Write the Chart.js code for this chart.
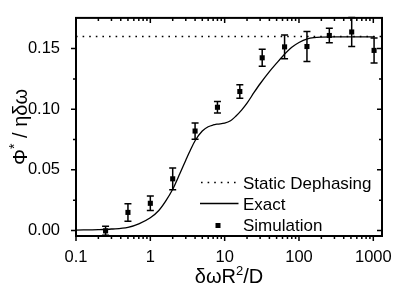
<!DOCTYPE html>
<html><head><meta charset="utf-8">
<script src="https://cdn.jsdelivr.net/npm/chart.js@4"></script>
<style>html,body{margin:0;padding:0;background:#fff}#wrap{width:400px;height:288px;position:relative}</style>
</head><body><div id="wrap"><canvas id="c"></canvas></div>
<script>
// ---- data ----
const simX   = [0.25, 0.5, 1, 2, 4, 8, 16, 32, 64, 128, 256, 512, 1024];
const simY   = [-0.0003, 0.0149, 0.0224, 0.0426, 0.0820, 0.1016, 0.1146, 0.1424, 0.1514, 0.1517, 0.1608, 0.1637, 0.1485];
const simErr = [0.0037, 0.0072, 0.0060, 0.0090, 0.0067, 0.0048, 0.0056, 0.0070, 0.0097, 0.0124, 0.0060, 0.0120, 0.0103];

const exactX = [0.1, 0.2, 0.3, 0.5, 0.7, 1, 1.3, 1.6, 2, 2.5, 3, 3.5, 4, 5, 6, 7, 8, 10, 12, 14, 17, 20, 25, 30, 40, 50, 60, 80, 100, 130, 160, 200, 300, 500, 1050];
const exactY = [0.0003, 0.0007, 0.0012, 0.0026, 0.0055, 0.0105, 0.0165, 0.024, 0.034, 0.047, 0.058, 0.067, 0.074, 0.082, 0.0855, 0.087, 0.0877, 0.0885, 0.0905, 0.094, 0.0995, 0.105, 0.114, 0.121, 0.131, 0.138, 0.1435, 0.151, 0.155, 0.158, 0.159, 0.1594, 0.1596, 0.1596, 0.1596];

const staticX = [0.1, 1309];
const staticY = [0.16, 0.16];

const xMajor = [0.1, 1, 10, 100, 1000];
const xLabels = ['0.1', '1', '10', '100', '1000'];
const xMinor = [0.2,0.3,0.4,0.5,0.6,0.7,0.8,0.9, 2,3,4,5,6,7,8,9, 20,30,40,50,60,70,80,90, 200,300,400,500,600,700,800,900];
const yMajor = [0, 0.05, 0.10, 0.15];
const yLabels = ['0.00', '0.05', '0.10', '0.15'];
const yMinor = [0.025, 0.075, 0.125];

const legendLabels = ['Static Dephasing', 'Exact', 'Simulation'];

const FONT = '"Liberation Sans", Arial, sans-serif';

const deco = {
  id: 'deco',
  beforeDatasetsDraw(chart) {
    const {ctx} = chart, xs = chart.scales.x, ys = chart.scales.y;
    ctx.save();
    ctx.strokeStyle = '#000'; ctx.lineWidth = 1.5;
    for (let i = 0; i < simX.length; i++) {
      const px = xs.getPixelForValue(simX[i]);
      const p1 = ys.getPixelForValue(simY[i] - simErr[i]);
      const p2 = ys.getPixelForValue(simY[i] + simErr[i]);
      ctx.beginPath();
      ctx.moveTo(px, p1); ctx.lineTo(px, p2);
      ctx.moveTo(px - 3.5, p1); ctx.lineTo(px + 3.5, p1);
      ctx.moveTo(px - 3.5, p2); ctx.lineTo(px + 3.5, p2);
      ctx.stroke();
    }
    ctx.restore();
  },
  afterDraw(chart) {
    const {ctx, chartArea: a} = chart, xs = chart.scales.x, ys = chart.scales.y;
    ctx.save();
    ctx.strokeStyle = '#000';
    ctx.lineWidth = 1.5;
    ctx.beginPath();
    xMajor.forEach(v => { const p = xs.getPixelForValue(v);
      ctx.moveTo(p, a.bottom); ctx.lineTo(p, a.bottom + 5);
      ctx.moveTo(p, a.top); ctx.lineTo(p, a.top + 5); });
    xMinor.forEach(v => { const p = xs.getPixelForValue(v);
      ctx.moveTo(p, a.bottom); ctx.lineTo(p, a.bottom + 3);
      ctx.moveTo(p, a.top); ctx.lineTo(p, a.top + 3); });
    yMajor.forEach(v => { const p = ys.getPixelForValue(v);
      ctx.moveTo(a.left, p); ctx.lineTo(a.left - 5, p);
      ctx.moveTo(a.right, p); ctx.lineTo(a.right - 5, p); });
    yMinor.forEach(v => { const p = ys.getPixelForValue(v);
      ctx.moveTo(a.left, p); ctx.lineTo(a.left - 3, p);
      ctx.moveTo(a.right, p); ctx.lineTo(a.right - 3, p); });
    ctx.stroke();
    ctx.lineWidth = 2;
    ctx.strokeRect(a.left, a.top, a.right - a.left, a.bottom - a.top);

    // legend
    ctx.fillStyle = '#000';
    ctx.font = '17px ' + FONT;
    ctx.textBaseline = 'alphabetic';
    ctx.textAlign = 'left';
    const lx = 243, base = [188.5, 209.5, 230.5];
    ctx.fillText(legendLabels[0], lx, base[0]);
    ctx.fillText(legendLabels[1], lx, base[1]);
    ctx.fillText(legendLabels[2], lx, base[2]);
    ctx.lineWidth = 1.5;
    ctx.setLineDash([1.6, 5]);
    ctx.beginPath(); ctx.moveTo(201, 182.5); ctx.lineTo(236, 182.5); ctx.stroke();
    ctx.setLineDash([]);
    ctx.lineWidth = 1.3;
    ctx.beginPath(); ctx.moveTo(200, 203.5); ctx.lineTo(238.5, 203.5); ctx.stroke();
    ctx.fillRect(215.5, 223, 5, 5);

    // x title
    ctx.font = '20px ' + FONT;
    const t1 = 'δωR', t2 = '2', t3 = '/D';
    const w1 = ctx.measureText(t1).width, w3 = ctx.measureText(t3).width;
    ctx.font = '13px ' + FONT; const w2 = ctx.measureText(t2).width;
    let sx = (a.left + a.right) / 2 - (w1 + w2 + w3) / 2;
    const by = 283;
    ctx.font = '20px ' + FONT; ctx.fillText(t1, sx, by); sx += w1;
    ctx.font = '13px ' + FONT; ctx.fillText(t2, sx, by - 8); sx += w2;
    ctx.font = '20px ' + FONT; ctx.fillText(t3, sx, by);

    // y title (rotated)
    ctx.save();
    ctx.translate(27, (a.top + a.bottom) / 2);
    ctx.rotate(-Math.PI / 2);
    const u1 = 'Φ', u2 = '*', u3 = ' / ηδω';
    ctx.font = '20px ' + FONT;
    const v1 = ctx.measureText(u1).width, v3 = ctx.measureText(u3).width;
    ctx.font = '14px ' + FONT; const v2 = ctx.measureText(u2).width;
    let tx = -(v1 + v2 + v3) / 2;
    ctx.font = '20px ' + FONT; ctx.fillText(u1, tx, 0); tx += v1;
    ctx.font = '14px ' + FONT; ctx.fillText(u2, tx, -8); tx += v2;
    ctx.font = '20px ' + FONT; ctx.fillText(u3, tx, 0);
    ctx.restore();
    ctx.restore();
  }
};

new Chart(document.getElementById('c'), {
  type: 'scatter',
  data: {
    datasets: [
      { label: legendLabels[0], data: staticX.map((x, i) => ({x, y: staticY[i]})), showLine: true,
        borderColor: '#000', borderWidth: 1.5, borderDash: [1.6, 5], pointRadius: 0 },
      { label: legendLabels[1], data: exactX.map((x, i) => ({x, y: exactY[i]})), showLine: true,
        borderColor: '#000', borderWidth: 1.3, pointRadius: 0, cubicInterpolationMode: 'monotone' },
      { label: legendLabels[2], data: simX.map((x, i) => ({x, y: simY[i]})), showLine: false,
        pointStyle: 'rect', pointRadius: 3.6, backgroundColor: '#000', borderColor: '#000', borderWidth: 0 }
    ]
  },
  options: {
    responsive: true, maintainAspectRatio: false, animation: false,
    devicePixelRatio: 1,
    layout: { padding: { top: 11, right: 18, left: 0, bottom: 0 } },
    plugins: { legend: { display: false }, tooltip: { enabled: false } },
    scales: {
      x: {
        type: 'logarithmic', min: 0.1, max: 1309,
        afterBuildTicks: s => { s.ticks = xMajor.map(v => ({ value: v })); },
        afterFit: s => { s.height = 52; },
        grid: { display: false }, border: { display: false },
        ticks: { color: '#000', font: { family: FONT, size: 16.5 }, padding: 4, maxRotation: 0, autoSkip: false,
          callback: v => { const i = xMajor.indexOf(v); return i >= 0 ? xLabels[i] : ''; } }
      },
      y: {
        type: 'linear', min: -0.00456, max: 0.1753,
        afterBuildTicks: s => { s.ticks = yMajor.map(v => ({ value: v })); },
        afterFit: s => { s.width = 76; },
        grid: { display: false }, border: { display: false },
        ticks: { color: '#000', font: { family: FONT, size: 16.5 }, padding: 8, autoSkip: false,
          callback: v => { const i = yMajor.findIndex(m => Math.abs(m - v) < 1e-9); return i >= 0 ? yLabels[i] : ''; } }
      }
    }
  },
  plugins: [deco]
});
</script></body></html>
